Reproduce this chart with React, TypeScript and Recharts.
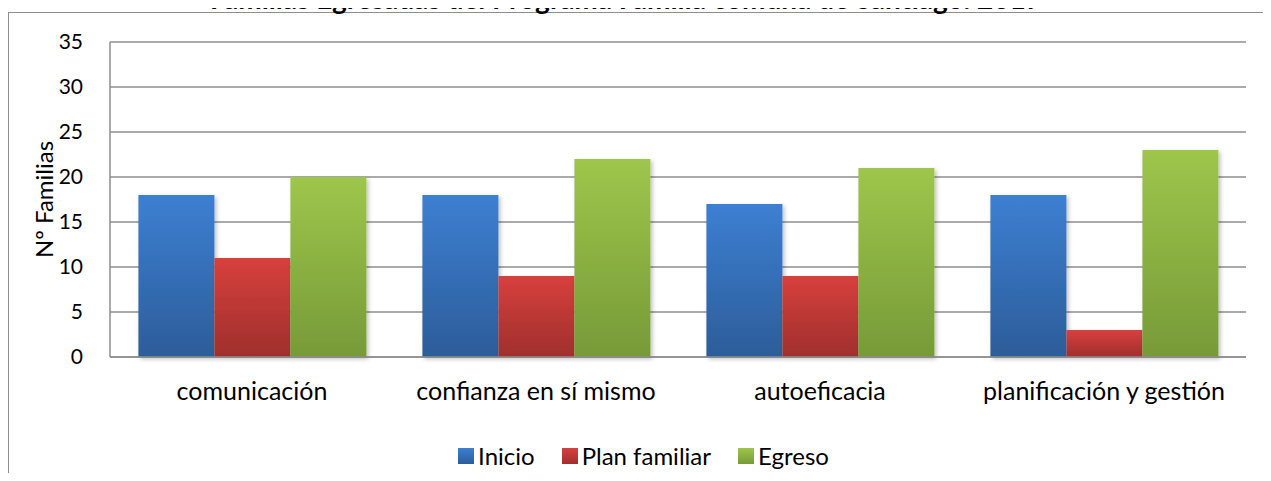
import { BarChart, Bar, XAxis, YAxis, CartesianGrid, Legend } from 'recharts'

const categories = ['comunicación', 'confianza en sí mismo', 'autoeficacia', 'planificación y gestión']
const inicio = [18, 18, 17, 18]
const planFamiliar = [11, 9, 9, 3]
const egreso = [20, 22, 21, 23]
const yTicks = [0, 5, 10, 15, 20, 25, 30, 35]

const title = 'Familias Egresadas del Programa Familia comuna de Santiago. 2017'
const yLabel = 'Nº Familias'

const data = categories.map((c, i) => ({
  name: c,
  Inicio: inicio[i],
  'Plan familiar': planFamiliar[i],
  Egreso: egreso[i],
}))

const font = 'Lato, "Open Sans", sans-serif'
const gridColor = '#8e8e8e'

const series = [
  { key: 'Inicio', id: 'gBlue', top: '#3d7fd2', bottom: '#2c5d99' },
  { key: 'Plan familiar', id: 'gRed', top: '#d7403d', bottom: '#9f2f2c' },
  { key: 'Egreso', id: 'gGreen', top: '#9ec64b', bottom: '#779a38' },
]

function LegendContent() {
  return (
    <div style={{ display: 'flex', justifyContent: 'center', alignItems: 'center', fontFamily: font, fontSize: 24, color: '#000', paddingLeft: 16 }}>
      {series.map((s, i) => (
        <div key={s.key} style={{ display: 'flex', alignItems: 'center', marginRight: i < series.length - 1 ? 27 : 0 }}>
          <span
            style={{
              display: 'inline-block',
              width: 16,
              height: 16,
              marginRight: 4,
              background: `linear-gradient(${s.top}, ${s.bottom})`,
            }}
          />
          <span>{s.key}</span>
        </div>
      ))}
    </div>
  )
}

export default function App() {
  return (
    <div style={{ position: 'relative', margin: -8, width: 1271, height: 481, overflow: 'hidden', background: '#fff' }}>
      <div
        style={{
          position: 'absolute',
          left: 8,
          top: 12,
          width: 1400,
          height: 600,
          borderLeft: `1.5px solid ${gridColor}`,
          borderTop: `1.5px solid ${gridColor}`,
        }}
      />
      <div style={{ position: 'absolute', left: 0, top: 0 }}>
        <BarChart
          width={1271}
          height={481}
          data={data}
          margin={{ top: 42, right: 25, bottom: 74, left: 20 }}
          barCategoryGap="10%"
          barGap={0}
        >
          <defs>
            {series.map((s) => (
              <linearGradient key={s.id} id={s.id} x1="0" y1="0" x2="0" y2="1">
                <stop offset="0%" stopColor={s.top} />
                <stop offset="100%" stopColor={s.bottom} />
              </linearGradient>
            ))}
            <filter id="shadow" x="-10%" y="-10%" width="130%" height="130%">
              <feDropShadow dx="2" dy="2" stdDeviation="2" floodColor="#000" floodOpacity="0.25" />
            </filter>
          </defs>
          <CartesianGrid vertical={false} stroke={gridColor} strokeWidth={1.5} />
          <XAxis
            dataKey="name"
            height={50}
            tickLine={false}
            axisLine={{ stroke: gridColor, strokeWidth: 1.5 }}
            tickMargin={19}
            tick={{ fontSize: 25, fill: '#000', fontFamily: font }}
          />
          <YAxis
            width={90}
            domain={[0, 35]}
            ticks={yTicks}
            tickSize={0}
            tickMargin={27}
            tickLine={false}
            axisLine={{ stroke: gridColor, strokeWidth: 1.5 }}
            tick={{ fontSize: 21, fill: '#000', fontFamily: font }}
            label={{
              content: (p: any) => (
                <text
                  x={p.viewBox.x + 23}
                  y={p.viewBox.y + p.viewBox.height / 2}
                  transform={`rotate(-90 ${p.viewBox.x + 23} ${p.viewBox.y + p.viewBox.height / 2})`}
                  textAnchor="middle"
                  dominantBaseline="central"
                  fontFamily={font}
                  fontSize={24}
                  fill="#000"
                >
                  {yLabel}
                </text>
              ),
            }}
          />
          <Legend
            verticalAlign="middle"
            align="center"
            wrapperStyle={{ top: 441, left: 0, width: 1271 }}
            content={() => <LegendContent />}
          />
          {series.map((s) => (
            <Bar key={s.key} dataKey={s.key} fill={`url(#${s.id})`} filter="url(#shadow)" isAnimationActive={false} />
          ))}
        </BarChart>
      </div>
      <svg width={1271} height={30} style={{ position: 'absolute', left: 0, top: 0, overflow: 'visible' }}>
        <text x={626} y={9} textAnchor="middle" fontFamily={font} fontWeight="bold" fontSize={28} fill="#000">
          {title}
        </text>
      </svg>
    </div>
  )
}
